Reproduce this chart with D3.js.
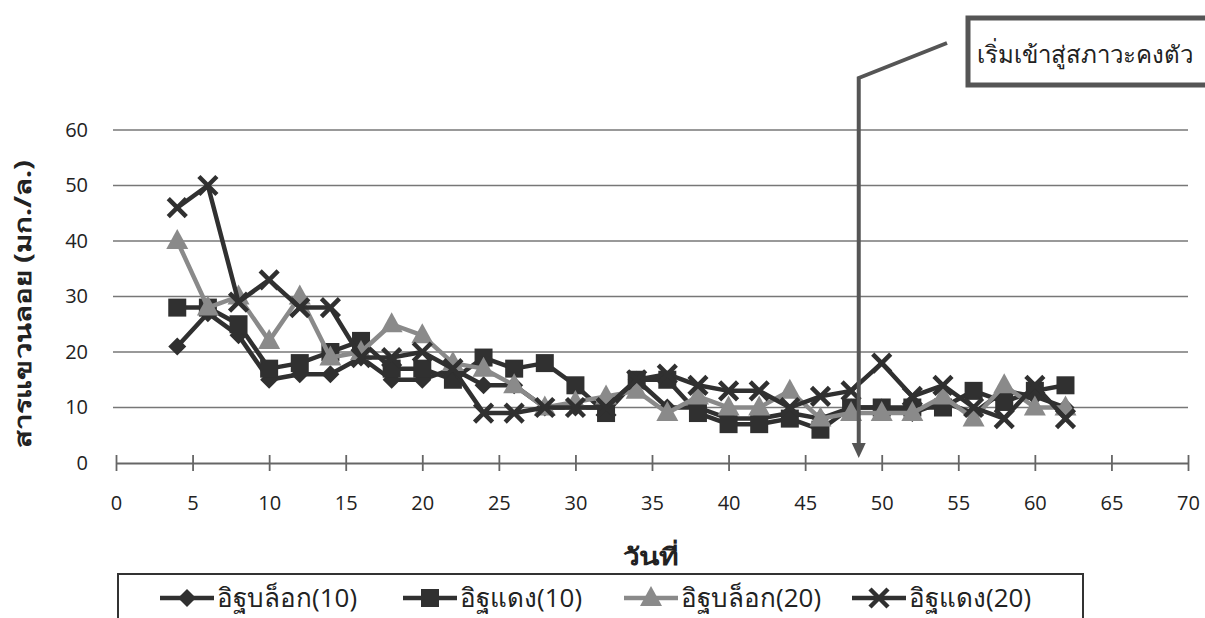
<!DOCTYPE html>
<html>
<head>
<meta charset="utf-8">
<script src="https://cdn.jsdelivr.net/npm/d3@7"></script>
<style>
  html, body { margin: 0; padding: 0; background: #fff; }
  svg { display: block; }
  text { font-family: "Open Sans", "Noto Sans", "DejaVu Sans", sans-serif; fill: #222; }
</style>
</head>
<body>
<svg id="chart" width="1205" height="618"></svg>
<script>
// Sampling days (every second day)
const days = [4, 6, 8, 10, 12, 14, 16, 18, 20, 22, 24, 26, 28, 30, 32, 34, 36, 38, 40, 42, 44, 46, 48, 50, 52, 54, 56, 58, 60, 62];

// Suspended solids (mg/L) for each media
const blockBrick10 = [21, 27, 23, 15, 16, 16, 19, 15, 15, 17, 14, 14, 10, 10, 10, 15, 10, 10, 8, 8, 9, 8, 10, 10, 9, 11, 9, 13, 12, 10];
const redBrick10   = [28, 28, 25, 17, 18, 20, 22, 17, 17, 15, 19, 17, 18, 14, 9, 15, 15, 9, 7, 7, 8, 6, 10, 10, 10, 10, 13, 11, 13, 14];
const blockBrick20 = [40, 28, 30, 22, 30, 19, 20, 25, 23, 18, 17, 14, 10, 11, 12, 13, 9, 12, 10, 10, 13, 8, 9, 9, 9, 12, 8, 14, 10, 10];
const redBrick20   = [46, 50, 29, 33, 28, 28, 19, 19, 20, 17, 9, 9, 10, 10, 10, 15, 16, 14, 13, 13, 10, 12, 13, 18, 12, 14, 10, 8, 14, 8];

const seriesNames = ["อิฐบล็อก(10)", "อิฐแดง(10)", "อิฐบล็อก(20)", "อิฐแดง(20)"];
const xTicks = [0, 5, 10, 15, 20, 25, 30, 35, 40, 45, 50, 55, 60, 65, 70];
const yTicks = [0, 10, 20, 30, 40, 50, 60];
const xTitle = "วันที่";
const yTitle = "สารแขวนลอย (มก./ล.)";
const noteText = "เริ่มเข้าสู่สภาวะคงตัว";
const noteDay = 48.5;

const svg = d3.select("#chart");
const x = d3.scaleLinear().domain([0, 70]).range([116, 1188]);
const y = d3.scaleLinear().domain([0, 60]).range([463, 130]);

const DARK = "#303030", GRAY = "#8a8a8a";
const series = [
  { name: seriesNames[0], values: blockBrick10, color: DARK, shape: "diamond" },
  { name: seriesNames[1], values: redBrick10,   color: DARK, shape: "square" },
  { name: seriesNames[2], values: blockBrick20, color: GRAY, shape: "triangle" },
  { name: seriesNames[3], values: redBrick20,   color: DARK, shape: "cross" }
];

// Horizontal gridlines
svg.append("g")
  .selectAll("line")
  .data(yTicks.filter(d => d > 0))
  .join("line")
  .attr("x1", x(0) - 3).attr("x2", x(70))
  .attr("y1", d => y(d)).attr("y2", d => y(d))
  .attr("stroke", "#777").attr("stroke-width", 1.7);

// X axis with ticks crossing the baseline
const xAxis = svg.append("g").attr("transform", `translate(0,${y(0)})`)
  .call(d3.axisBottom(x).tickValues(xTicks).tickSize(0).tickPadding(33));
xAxis.select(".domain").attr("stroke", "#666").attr("stroke-width", 1.8);
xAxis.selectAll(".tick text").attr("font-size", 20).attr("fill", "#222");
xAxis.selectAll(".tick").append("line")
  .attr("y1", -8).attr("y2", 8)
  .attr("stroke", "#666").attr("stroke-width", 1.8);

// Y axis labels only
const yAxis = svg.append("g").attr("transform", `translate(${x(0)},0)`)
  .call(d3.axisLeft(y).tickValues(yTicks).tickSize(0).tickPadding(28));
yAxis.select(".domain").remove();
yAxis.selectAll(".tick text").attr("font-size", 20).attr("fill", "#222");

// Axis titles
svg.append("text")
  .attr("x", 651).attr("y", 565)
  .attr("text-anchor", "middle")
  .attr("font-size", 24).attr("font-weight", "bold")
  .attr("textLength", 56).attr("lengthAdjust", "spacingAndGlyphs")
  .text(xTitle);
svg.append("text")
  .attr("transform", "translate(31,304) rotate(-90)")
  .attr("text-anchor", "middle")
  .attr("font-size", 23).attr("font-weight", "bold")
  .attr("textLength", 288).attr("lengthAdjust", "spacingAndGlyphs")
  .text(yTitle);

// Marker painter
function drawMarker(g, shape, color) {
  if (shape === "diamond") {
    g.append("path").attr("d", "M0,-9L9,0L0,9L-9,0Z").attr("fill", color);
  } else if (shape === "square") {
    g.append("rect").attr("x", -9).attr("y", -9).attr("width", 18).attr("height", 18).attr("fill", color);
  } else if (shape === "triangle") {
    g.append("path").attr("d", "M0,-12L11,8L-11,8Z").attr("fill", color);
  } else {
    g.append("path").attr("d", "M-9,-9L9,9M-9,9L9,-9")
      .attr("stroke", color).attr("stroke-width", 4.5).attr("fill", "none");
  }
}

// Series lines and markers
const line = d3.line().x((d, i) => x(days[i])).y(d => y(d));
series.forEach(s => {
  const g = svg.append("g");
  g.append("path")
    .attr("d", line(s.values))
    .attr("fill", "none")
    .attr("stroke", s.color)
    .attr("stroke-width", 4.5)
    .attr("stroke-linejoin", "round");
  s.values.forEach((v, i) => {
    const m = g.append("g").attr("transform", `translate(${x(days[i])},${y(v)})`);
    drawMarker(m, s.shape, s.color);
  });
});

// Steady-state callout
const ax = x(noteDay);
svg.append("path")
  .attr("d", `M947,43L${ax},78L${ax},${y(0) - 14}`)
  .attr("fill", "none").attr("stroke", "#555").attr("stroke-width", 4);
svg.append("path")
  .attr("d", `M${ax - 7},${y(0) - 20}L${ax},${y(0) - 5}L${ax + 7},${y(0) - 20}Z`)
  .attr("fill", "#555");
svg.append("rect")
  .attr("x", 968).attr("y", 18).attr("width", 260).attr("height", 67)
  .attr("fill", "#fff").attr("stroke", "#555").attr("stroke-width", 5);
svg.append("text")
  .attr("x", 977).attr("y", 63)
  .attr("font-size", 24)
  .text(noteText);

// Legend
const legend = svg.append("g");
legend.append("rect")
  .attr("x", 118).attr("y", 574).attr("width", 965).attr("height", 80)
  .attr("fill", "#fff").attr("stroke", "#333").attr("stroke-width", 2);
const legendMarkX = [187, 430, 651, 879];
series.forEach((s, i) => {
  const g = legend.append("g").attr("transform", `translate(${legendMarkX[i]},598)`);
  g.append("line").attr("x1", -27).attr("x2", 27)
    .attr("stroke", s.color).attr("stroke-width", 4.5);
  drawMarker(g.append("g"), s.shape, s.color);
  g.append("text").attr("x", 30).attr("y", 9)
    .attr("font-size", 26)
    .text(s.name);
});
</script>
</body>
</html>
